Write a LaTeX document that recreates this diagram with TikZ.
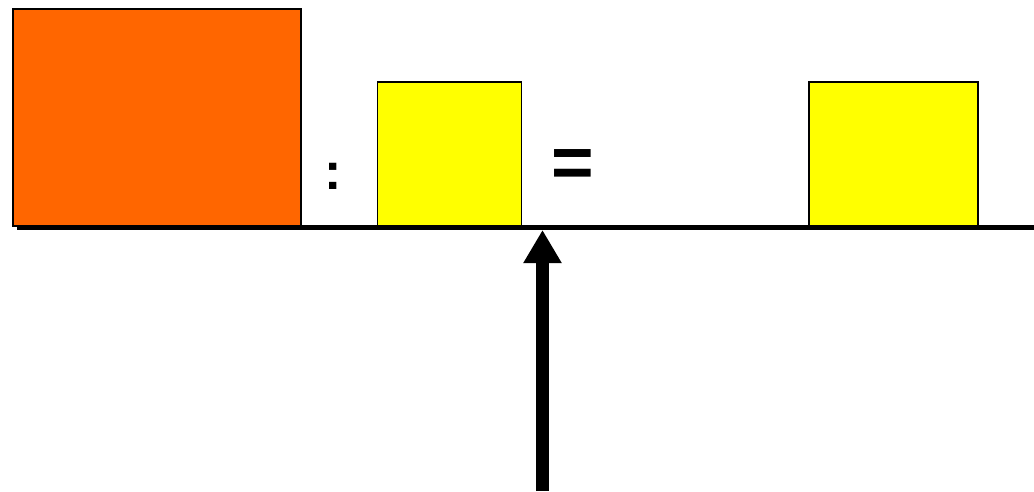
\documentclass[tikz,border=0pt]{standalone}
\usepackage{fontspec}
\setmainfont{Liberation Sans}
\usetikzlibrary{arrows.meta}
\definecolor{orangefill}{HTML}{FF6600}
\definecolor{yellowfill}{HTML}{FFFF00}
\begin{document}
\begin{tikzpicture}[x=1pt,y=-1pt,
  block/.style={draw=black,line width=1.8pt,anchor=north west,inner sep=0pt,outer sep=0pt},
  sign/.style={inner sep=0pt,font=\bfseries},
  beam/.style={line width=5pt},
  lever/.style={line width=12.5pt,-{Triangle[width=36pt,length=33pt]}}]
\useasboundingbox (0,0) rectangle (1034,491);
\node[block,fill=orangefill,minimum width=288pt,minimum height=217pt] (big) at (13,9) {};
\node[block,fill=yellowfill,minimum width=144pt,minimum height=144pt] (small) at (377.5,82) {};
\node[block,fill=yellowfill,minimum width=169pt,minimum height=144pt] (result) at (809,82) {};
\node[sign,font=\bfseries\fontsize{52}{60}\selectfont] (colon) at (333.5,176) {:};
\node[sign,font=\bfseries\fontsize{73}{80}\selectfont] (equals) at (572.5,169) {=};
\coordinate (beamL) at (17,227.5);
\coordinate (beamR) at (1034,227.5);
\coordinate (tip) at (542.5,230);
\coordinate (foot) at (542.5,491);
\draw[beam] (beamL) -- (beamR);
\draw[lever] (foot) -- (tip);
\end{tikzpicture}
\end{document}
